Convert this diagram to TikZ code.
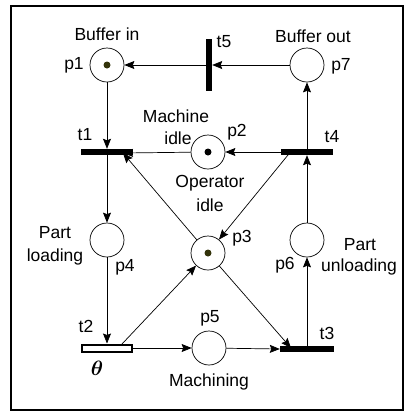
\documentclass[tikz,border=0pt]{standalone}
\usepackage{fontspec}
\setmainfont{Liberation Sans}
\usepackage{bm}
\usetikzlibrary{arrows.meta}
\definecolor{tok}{RGB}{51,51,10}
\tikzset{
  place/.style={circle,draw,line width=0.7pt,minimum size=34pt,inner sep=0pt},
  hbar/.style={rectangle,fill=black,minimum width=52pt,minimum height=6pt,inner sep=0pt},
  vbar/.style={rectangle,fill=black,minimum width=6pt,minimum height=52pt,inner sep=0pt},
  tbox/.style={rectangle,draw,line width=2pt,fill=white,minimum width=50pt,minimum height=7pt,inner sep=0pt},
  lbl/.style={inner sep=0pt,font=\fontsize{17.5}{20}\selectfont},
  arc/.style={line width=0.7pt,-{Stealth[length=10pt,width=8pt,inset=1.5pt]}},
  token/.style={circle,fill=tok,minimum size=7pt,inner sep=0pt}
}
\begin{document}
\begin{tikzpicture}[x=1pt,y=-1pt]
\useasboundingbox (0,0) rectangle (409,413);
\draw[line width=1.5pt] (11,6) rectangle (403,410);
% places
\node[place] (p1) at (107,65) {};
\node[place] (p7) at (307,65) {};
\node[place] (p2) at (208,152) {};
\node[place] (p3) at (208,253) {};
\node[place] (p4) at (107,240) {};
\node[place] (p6) at (307,240) {};
\node[place] (p5) at (209,348) {};
\node[token] (k1) at (p1) {};
\node[token] (k3) at (p3) {};
\node[token,fill=black] (k2) at (p2) {};
% transitions
\node[vbar] (t5) at (209,65) {};
\node[hbar] (t1) at (107,152) {};
\node[hbar] (t4) at (307,152) {};
\node[tbox] (t2) at (107,348) {};
\node[hbar,minimum width=54pt] (t3) at (307,349) {};
\coordinate (t1in) at (123,153);
\coordinate (t4out) at (288,155);
\coordinate (t2out) at (122,344);
\coordinate (t3in) at (291,348);
% arcs
\draw[arc] (p7) -- (t5);
\draw[arc] (t5) -- (p1);
\draw[arc] (p1) -- (t1);
\draw[arc] (t1) -- (p4);
\draw[arc] (p4) -- (t2);
\draw[arc] (t2) -- (p5);
\draw[arc] (p5) -- (t3.west);
\draw[arc] (p3) -- (t3in);
\draw[arc] (t2out) -- (p3);
\draw[arc] (t4out) -- (p3);
\draw[arc] (p3) -- (t1in);
\draw[arc] (p2) -- (t1in);
\draw[arc] (t4) -- (p2);
\draw[arc] (t3) -- (p6);
\draw[arc] (p6) -- (t4);
\draw[arc] (t4) -- (p7);
% labels
\node[lbl] (lbin) at (107,34) {Buffer in};
\node[lbl] (lbout) at (313,36) {Buffer out};
\node[lbl] (lp1) at (74,65) {p1};
\node[lbl] (lt5) at (224,42) {t5};
\node[lbl] (lp7) at (341,66) {p7};
\node[lbl] (lmach) at (176,116) {Machine};
\node[lbl] (lidle1) at (178,138) {idle};
\node[lbl] (lp2) at (237,132) {p2};
\node[lbl] (lt1) at (85,135) {t1};
\node[lbl] (lt4) at (332,137) {t4};
\node[lbl] (lop) at (210,183) {Operator};
\node[lbl] (lidle2) at (210,205) {idle};
\node[lbl] (lp3) at (242,238) {p3};
\node[lbl] (lpart1) at (55,233) {Part};
\node[lbl] (lload) at (55,257) {loading};
\node[lbl] (lp4) at (125,267) {p4};
\node[lbl] (lp6) at (285,265) {p6};
\node[lbl] (lpart2) at (360,245) {Part};
\node[lbl] (lunload) at (359,267) {unloading};
\node[lbl] (lt2) at (86,326) {t2};
\node[lbl,font=\fontsize{21}{24}\selectfont] (ltheta) at (97,368) {$\bm{\theta}$};
\node[lbl] (lp5) at (210,318) {p5};
\node[lbl] (lt3) at (327,333) {t3};
\node[lbl] (lmachining) at (209,382) {Machining};
\end{tikzpicture}
\end{document}
